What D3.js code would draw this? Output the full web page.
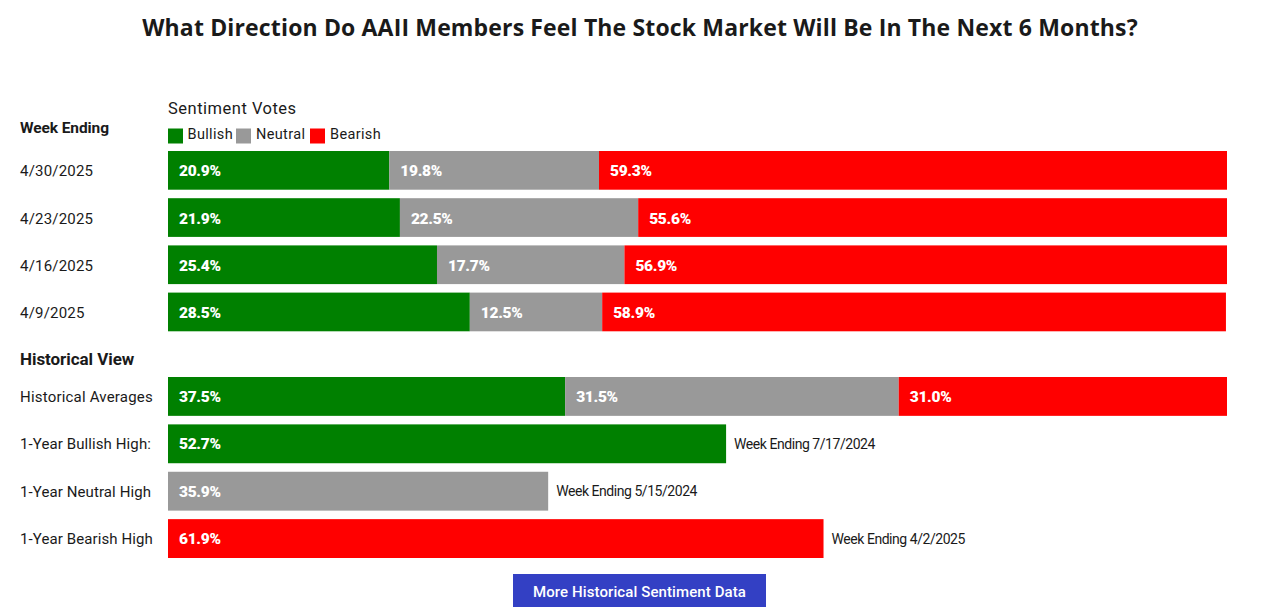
<!DOCTYPE html>
<html><head><meta charset="utf-8">
<script src="https://cdn.jsdelivr.net/npm/d3@7/dist/d3.min.js"></script>
<style>html,body{margin:0;padding:0;background:#fff;overflow:hidden}svg{display:block}text{font-family:Roboto,sans-serif}</style>
</head><body><svg id="c" width="1280" height="613"></svg>
<script>
const titleText = "What Direction Do AAII Members Feel The Stock Market Will Be In The Next 6 Months?";
const sentiments = ["Bullish","Neutral","Bearish"];
const sentimentColors = ["#008000","#999999","#ff0000"];
const weekLabels = ["4/30/2025","4/23/2025","4/16/2025","4/9/2025"];
const weekBullish = [20.9,21.9,25.4,28.5];
const weekNeutral = [19.8,22.5,17.7,12.5];
const weekBearish = [59.3,55.6,56.9,58.9];
const histAvgLabel = "Historical Averages";
const histAvgValues = [37.5,31.5,31.0];
const highLabels = ["1-Year Bullish High:","1-Year Neutral High","1-Year Bearish High"];
const highValues = [52.7,35.9,61.9];
const highNotes = ["Week Ending 7/17/2024","Week Ending 5/15/2024","Week Ending 4/2/2025"];

const svg = d3.select("#c");
const ink = "#1a1a1a";
const x = d3.scaleLinear().domain([0,100]).range([168,1227]);
const color = d3.scaleOrdinal().domain(sentiments).range(sentimentColors);

const yWeek = d3.scaleBand().domain(weekLabels).range([151,331.3]).paddingInner(0.18);
const histLabels = [histAvgLabel, ...highLabels];
const yHist = d3.scaleBand().domain(histLabels).range([377,558]).paddingInner(0.18);

function txt(xp,yp,s,size,weight,fill,ls){
  return svg.append("text").attr("x",xp).attr("y",yp).attr("dominant-baseline","central")
    .attr("font-size",size).attr("font-weight",weight).attr("fill",fill).attr("letter-spacing",ls||0).text(s);
}
function valueLabel(xp,yp,v){
  txt(xp,yp,v.toFixed(1)+"%",15.5,900,"#fff",-0.3);
}
function stacked(label, vals, y){
  let c = 0;
  vals.forEach((v,i)=>{
    const x0 = x(c), x1 = x(c+v);
    svg.append("rect").attr("x",x0).attr("y",y(label)).attr("width",x1-x0).attr("height",y.bandwidth()).attr("fill",sentimentColors[i]);
    valueLabel(x0+11,y(label)+y.bandwidth()/2+1,v);
    c += v;
  });
  txt(20,y(label)+y.bandwidth()/2+1,label,15,400,ink,0.2);
}
weekLabels.forEach((l,i)=>stacked(l,[weekBullish[i],weekNeutral[i],weekBearish[i]],yWeek));
stacked(histAvgLabel,histAvgValues,yHist);
highLabels.forEach((l,i)=>{
  const ym = yHist(l), cx = yHist.bandwidth()/2;
  svg.append("rect").attr("x",x(0)).attr("y",ym).attr("width",x(highValues[i])-x(0)).attr("height",yHist.bandwidth()).attr("fill",sentimentColors[i]);
  valueLabel(x(0)+11,ym+cx+0.5,highValues[i]);
  txt(20,ym+cx+0.5,l,15,400,ink,0.1);
  txt(x(highValues[i])+8,ym+cx,highNotes[i],14,400,ink,-0.45);
});

svg.append("text").attr("x",640).attr("y",27).attr("text-anchor","middle").attr("dominant-baseline","central")
  .style("font-family","'Open Sans',sans-serif").attr("font-size",23).attr("font-weight",700).attr("fill",ink).attr("letter-spacing",0.15).text(titleText);

txt(168,108,"Sentiment Votes",16.5,400,ink,0.5);
txt(20,128,"Week Ending",15.5,700,ink,-0.1);
txt(20,359,"Historical View",17,700,ink,-0.05);

const legendX = [168,236,310], legendTextX = [187.5,256,330];
sentiments.forEach((s,i)=>{
  svg.append("rect").attr("x",legendX[i]).attr("y",128.5).attr("width",15).attr("height",15).attr("fill",color(s));
  txt(legendTextX[i],134.5,s,14.5,400,ink,0.35);
});

svg.append("rect").attr("x",513).attr("y",574).attr("width",253).attr("height",33).attr("fill","#3340c4");
svg.append("text").attr("x",639.5).attr("y",592).attr("text-anchor","middle").attr("dominant-baseline","central")
  .attr("font-size",15).attr("font-weight",500).attr("fill","#fff").attr("letter-spacing",0.1).text("More Historical Sentiment Data");
</script></body></html>
